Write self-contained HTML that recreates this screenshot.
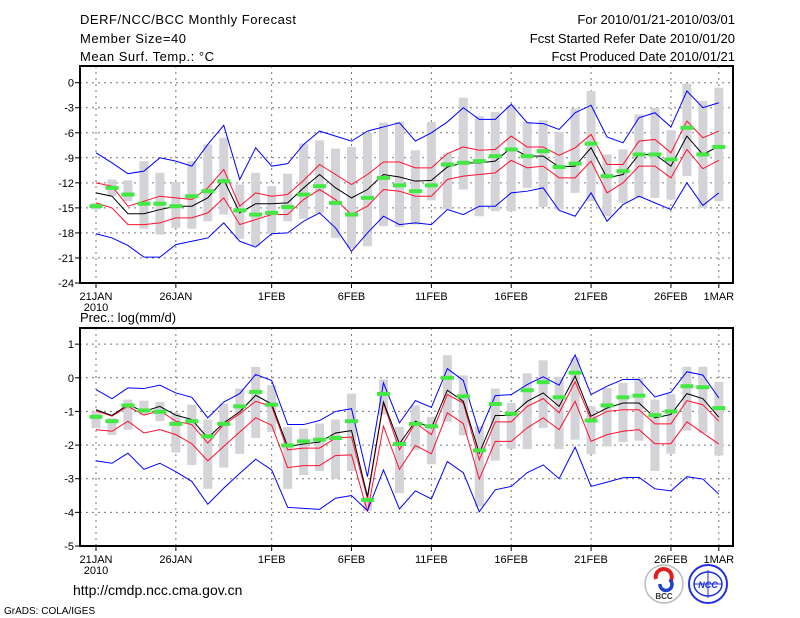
<!DOCTYPE html>
<html><head><meta charset="utf-8"><style>
body{margin:0;background:#fff;}
svg{display:block;font-family:"Liberation Sans",sans-serif;}
</style></head><body>
<svg id="chart" width="800" height="618" viewBox="0 0 800 618" xmlns="http://www.w3.org/2000/svg">
<rect width="800" height="618" fill="#fff"/>
<g font-size="13" fill="#000">
<text x="80" y="24" textLength="216">DERF/NCC/BCC Monthly Forecast</text>
<text x="80" y="43" textLength="106">Member Size=40</text>
<text x="80" y="61" textLength="134">Mean Surf. Temp.: °C</text>
<text x="735" y="24" text-anchor="end">For 2010/01/21-2010/03/01</text>
<text x="735" y="43" text-anchor="end">Fcst Started Refer Date 2010/01/20</text>
<text x="735" y="61" text-anchor="end">Fcst Produced Date 2010/01/21</text>
</g>
<g id="top"></g>
<g id="bot"></g>
<text x="80" y="322" font-size="13">Prec.: log(mm/d)</text>
<text x="73" y="595" font-size="14">http://cmdp.ncc.cma.gov.cn</text>
<text x="4" y="614" font-size="10">GrADS: COLA/IGES</text>
<g>
<circle cx="664" cy="584" r="19" fill="#fff" stroke="#bbb" stroke-width="1.5"/>
<path d="M656 579 a8 8 0 1 1 14 3" fill="none" stroke="#e02020" stroke-width="4"/>
<path d="M660 584 a6 6 0 1 0 10 -4" fill="none" stroke="#2040d0" stroke-width="3.5"/>
<text x="664" y="599" font-size="8" font-weight="bold" text-anchor="middle" fill="#333">BCC</text>
</g>
<g>
<circle cx="708" cy="584" r="19" fill="#fff" stroke="#2030e0" stroke-width="2"/>
<ellipse cx="708" cy="584" rx="14" ry="12" fill="none" stroke="#2030e0" stroke-width="1.5"/>
<line x1="694" y1="584" x2="722" y2="584" stroke="#2030e0"/>
<line x1="708" y1="570" x2="708" y2="598" stroke="#2030e0"/>
<text x="708" y="588" font-size="9" font-weight="bold" font-style="italic" text-anchor="middle" fill="#2030e0">NCC</text>
</g>
</svg>
<script>
// ---- Temperature data (deg C) ----
const tBlueTop=[-8.4,-9.6,-10.9,-10.6,-9.0,-9.4,-10.0,-7.4,-5.1,-11.6,-7.8,-10.0,-9.7,-7.4,-5.8,-6.4,-7.0,-5.8,-5.3,-4.8,-7.0,-6.0,-4.7,-3.0,-4.4,-4.4,-2.6,-4.8,-4.9,-5.6,-3.6,-2.7,-6.5,-7.2,-4.2,-3.6,-5.3,-1.0,-3.0,-2.4];
const tRedTop=[-12.0,-12.4,-14.8,-14.2,-13.6,-13.8,-14.0,-12.6,-10.4,-14.8,-13.2,-13.6,-13.4,-11.7,-9.8,-11.0,-12.2,-11.0,-9.5,-9.5,-10.2,-10.2,-8.5,-7.7,-8.1,-8.0,-6.4,-7.7,-7.7,-8.7,-7.8,-6.2,-9.8,-9.8,-7.0,-6.8,-8.4,-4.6,-6.6,-5.8];
const tMean=[-13.2,-13.6,-15.7,-15.7,-15.2,-14.8,-14.8,-13.8,-11.6,-15.6,-14.5,-14.5,-14.4,-12.6,-11.0,-12.6,-13.8,-12.8,-11.0,-11.3,-11.8,-11.7,-10.1,-9.6,-9.6,-9.4,-7.8,-8.8,-8.8,-10.1,-10.0,-7.8,-11.4,-11.0,-8.6,-8.6,-10.0,-6.4,-8.6,-7.6];
const tRedBot=[-14.4,-15.0,-17.0,-17.0,-16.8,-16.2,-16.2,-15.6,-13.8,-17.0,-16.4,-15.8,-15.8,-14.0,-12.8,-14.0,-15.8,-14.8,-12.8,-13.0,-13.6,-13.6,-11.6,-11.2,-11.0,-10.8,-9.3,-10.2,-10.0,-11.4,-11.4,-9.4,-13.2,-12.0,-10.0,-10.0,-11.4,-8.0,-10.3,-9.3];
const tBlueBot=[-18.1,-18.6,-19.5,-20.9,-20.9,-19.4,-19.0,-18.6,-16.8,-19.0,-19.7,-18.1,-18.0,-16.6,-15.6,-17.4,-20.2,-18.0,-16.0,-17.0,-16.8,-17.0,-15.2,-15.8,-14.8,-14.8,-13.2,-13.0,-12.6,-15.3,-16.0,-13.2,-16.6,-14.6,-13.6,-14.4,-15.2,-12.0,-14.7,-13.2];
const tObs=[-14.8,-12.6,-13.4,-14.5,-14.5,-14.8,-13.6,-13.0,-11.8,-15.3,-15.8,-15.6,-14.9,-13.4,-12.4,-14.4,-15.8,-13.8,-11.4,-12.3,-13.0,-12.3,-9.8,-9.6,-9.4,-8.8,-8.0,-8.8,-8.2,-10.1,-9.7,-7.3,-11.2,-10.6,-8.6,-8.6,-9.2,-5.4,-8.6,-7.7];
const tBarHi=[-14.4,-11.6,-11.7,-9.4,-10.8,-11.9,-9.4,-7.4,-6.6,-12.2,-10.8,-12.4,-10.9,-7.3,-6.9,-7.9,-7.7,-6.0,-4.8,-4.7,-8.1,-4.7,-8.5,-1.8,-4.0,-3.5,-2.7,-4.7,-4.5,-5.9,-3.1,-1.0,-8.6,-8.0,-3.8,-3.0,-5.7,-0.1,-2.2,-0.6];
const tBarLo=[-15.2,-13.6,-14.2,-17.5,-18.2,-17.4,-17.5,-16.6,-15.8,-18.7,-19.6,-18.1,-16.6,-16.3,-15.6,-18.6,-19.8,-19.6,-17.2,-17.3,-17.0,-14.1,-15.2,-12.8,-16.0,-15.4,-15.4,-12.6,-14.9,-15.2,-13.2,-14.2,-16.0,-14.4,-13.8,-13.8,-14.0,-11.2,-15.0,-14.2];
const tTicks=[0,-3,-6,-9,-12,-15,-18,-21,-24];
// ---- Precipitation data (log mm/d) ----
const pBlueTop=[-0.35,-0.62,-0.30,-0.32,-0.22,-0.45,-0.58,-1.19,-0.72,-0.47,0.10,-0.08,-1.39,-1.39,-1.27,-1.0,-0.92,-2.94,-0.15,-1.34,-0.68,-0.88,0.27,-0.08,-1.64,-0.53,-0.5,-0.2,0.03,-0.22,0.68,-0.5,-0.25,-0.05,-0.05,-0.57,-0.43,0.18,0.08,-0.6];
const pRedTop=[-0.98,-1.14,-0.85,-1.11,-0.98,-1.29,-1.39,-1.94,-1.39,-1.07,-0.70,-0.85,-2.14,-2.09,-2.09,-1.79,-1.76,-3.6,-0.75,-2.14,-1.34,-1.69,-0.5,-0.75,-2.44,-1.31,-1.31,-0.85,-0.62,-1.04,-0.12,-1.24,-1.0,-0.95,-0.95,-1.37,-1.37,-0.68,-0.8,-1.29];
const pMean=[-0.95,-1.12,-0.80,-1.0,-0.85,-1.11,-1.24,-1.79,-1.34,-1.01,-0.52,-0.78,-2.04,-1.97,-1.91,-1.64,-1.57,-3.53,-0.72,-1.96,-1.29,-1.49,-0.37,-0.7,-2.24,-1.12,-1.12,-0.7,-0.45,-0.85,0.05,-1.14,-0.9,-0.75,-0.75,-1.19,-1.09,-0.47,-0.62,-1.17];
const pRedBot=[-1.54,-1.59,-1.29,-1.64,-1.54,-1.69,-1.96,-2.47,-2.04,-1.61,-1.19,-1.41,-2.67,-2.61,-2.61,-2.31,-2.29,-3.98,-1.44,-2.72,-2.01,-2.26,-1.04,-1.36,-3.01,-1.89,-1.89,-1.49,-1.19,-1.54,-0.7,-1.89,-1.69,-1.59,-1.54,-1.96,-1.96,-1.31,-1.64,-1.97];
const pBlueBot=[-2.47,-2.54,-2.24,-2.72,-2.54,-2.79,-3.08,-3.76,-3.28,-2.84,-2.42,-2.74,-3.85,-3.88,-3.91,-3.58,-3.5,-3.95,-2.74,-3.9,-3.36,-3.6,-2.49,-2.82,-3.98,-3.33,-3.23,-2.82,-2.59,-3.0,-2.06,-3.23,-3.1,-2.97,-2.96,-3.3,-3.36,-2.94,-3.01,-3.46];
const pObs=[-1.16,-1.29,-0.82,-0.97,-1.01,-1.37,-1.29,-1.74,-1.37,-0.85,-0.42,-0.8,-2.01,-1.89,-1.84,-1.79,-1.29,-3.63,-0.48,-1.97,-1.37,-1.44,0.0,-0.55,-2.16,-0.78,-1.07,-0.37,-0.13,-0.58,0.15,-1.27,-0.82,-0.58,-0.53,-1.11,-1.0,-0.25,-0.28,-0.9];
const pBarHi=[-1.0,-1.2,-0.65,-0.68,-0.72,-1.04,-0.8,-1.24,-0.77,-0.32,0.32,-0.22,-1.46,-1.51,-1.36,-1.24,-0.47,-3.56,-0.05,-1.46,-0.82,-1.16,0.67,0.07,-1.44,-0.32,-0.75,0.13,0.52,0.03,0.6,-0.85,-0.3,-0.15,0.0,-0.65,-0.48,0.33,0.33,-0.12];
const pBarLo=[-1.5,-1.7,-1.54,-1.11,-1.29,-2.22,-2.59,-3.3,-2.67,-2.26,-1.79,-1.61,-3.3,-2.89,-2.77,-3.0,-2.77,-3.96,-1.09,-3.43,-2.14,-2.57,-1.31,-1.71,-3.83,-2.46,-2.11,-2.12,-1.49,-2.12,-1.84,-2.27,-2.04,-1.91,-1.87,-2.77,-2.26,-1.57,-1.64,-2.31];
const pTicks=[1,0,-1,-2,-3,-4,-5];
const xTickDays=[0,5,11,16,21,26,31,36,39];
const xTickLabels=["21JAN","26JAN","1FEB","6FEB","11FEB","16FEB","21FEB","26FEB","1MAR"];

const NS="http://www.w3.org/2000/svg";
const X0=96, XSTEP=15.97, FL=80, FR=733;
function xs(i){return X0+i*XSTEP;}
function mk(tag,attrs,parent){const e=document.createElementNS(NS,tag);for(const k in attrs)e.setAttribute(k,attrs[k]);parent.appendChild(e);return e;}

function panel(g,top,bot,vmax,vmin,ticks,series,name){
  const ys=v=>top+(vmax-v)/(vmax-vmin)*(bot-top);
  ticks.forEach(t=>{
    if(t!==vmin){const l=mk('line',{x1:FL,x2:FR,y1:ys(t),y2:ys(t),stroke:'#777','stroke-dasharray':'2,4','stroke-width':1},g);
    
    }
    const tk=mk('line',{x1:FL-5,x2:FL,y1:ys(t),y2:ys(t),stroke:'#000'},g);
    
    
    const tx=mk('text',{x:FL-6,y:ys(t)+4,'font-size':11,'text-anchor':'end'},g);
    
    
    tx.textContent=String(t);
  });
  xTickDays.forEach((d,k)=>{
    const l=mk('line',{x1:xs(d),x2:xs(d),y1:top,y2:bot,stroke:'#777','stroke-dasharray':'2,4'},g);
    
    
    const tk=mk('line',{x1:xs(d),x2:xs(d),y1:bot,y2:bot+5,stroke:'#000'},g);
    
    
    const tx=mk('text',{x:xs(d),y:bot+17,'font-size':11,'text-anchor':'middle'},g);
    
    
    tx.textContent=xTickLabels[k];
  });
  const yr=mk('text',{x:xs(0),y:bot+28,'font-size':11,'text-anchor':'middle'},g);
  
  
  yr.textContent='2010';
  series.hi.forEach((h,i)=>{
    const r=mk('rect',{x:xs(i)-4.5,y:ys(h),width:9,height:Math.max(1,ys(series.lo[i])-ys(h)),fill:'#d3d3d8'},g);
    
    
  });
  const lines=[[series.bt,'#0000ff','upper-blue-line'],[series.rt,'#ff1030','upper-red-line'],[series.m,'#000','ensemble-mean-line'],[series.rb,'#ff1030','lower-red-line'],[series.bb,'#0000ff','lower-blue-line']];
  lines.forEach(([arr,c,n])=>{
    const p=mk('polyline',{points:arr.map((v,i)=>xs(i)+','+ys(v)).join(' '),fill:'none',stroke:c,'stroke-width':1},g);
    
    
  });
  series.obs.forEach((v,i)=>{
    const r=mk('rect',{x:xs(i)-6.5,y:ys(v)-2,width:13,height:4,fill:'#44e844'},g);
    
    
  });
  const f=mk('rect',{x:FL,y:top,width:FR-FL,height:bot-top,fill:'none',stroke:'#000','stroke-width':2},g);
  
  
}
panel(document.getElementById('top'),66,283,2,-24,tTicks,{hi:tBarHi,lo:tBarLo,bt:tBlueTop,rt:tRedTop,m:tMean,rb:tRedBot,bb:tBlueBot,obs:tObs},'temperature');
panel(document.getElementById('bot'),328,546,1.48,-5,pTicks,{hi:pBarHi,lo:pBarLo,bt:pBlueTop,rt:pRedTop,m:pMean,rb:pRedBot,bb:pBlueBot,obs:pObs},'precip');
</script>
</body></html>
